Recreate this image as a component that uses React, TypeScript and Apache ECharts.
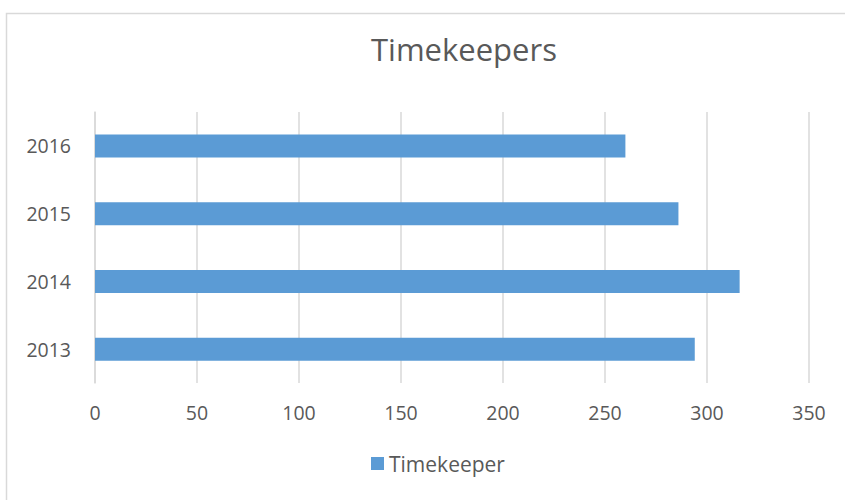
import React, { useEffect, useRef } from "react";
import * as echarts from "echarts";

const categories = ["2013", "2014", "2015", "2016"];
const timekeeperValues = [294, 316, 286, 260];
const xTicks = [0, 50, 100, 150, 200, 250, 300, 350];
const seriesName = "Timekeeper";
const titleText = "Timekeepers";

export default function App() {
  const ref = useRef<HTMLDivElement>(null);
  useEffect(() => {
    if (!ref.current) return;
    const chart = echarts.init(ref.current, null, { renderer: "svg" });
    const font = "'Open Sans', sans-serif";
    chart.setOption({
      animation: false,
      backgroundColor: "#ffffff",
      textStyle: { fontFamily: font },
      graphic: [
        {
          type: "polyline",
          shape: { points: [[6.5, 500], [6.5, 13.5], [845, 13.5]] },
          style: { fill: "none", stroke: "#d9d9d9", lineWidth: 1.5 },
          silent: true,
          z: -1,
        },
      ],
      title: {
        text: titleText,
        left: 366,
        top: 28,
        textStyle: { fontFamily: font, fontSize: 31, fontWeight: "normal", color: "#595959" },
      },
      legend: {
        bottom: 21,
        left: 366,
        itemWidth: 13,
        itemHeight: 13,
        itemGap: 5,
        icon: "rect",
        textStyle: { fontFamily: font, fontSize: 21, color: "#595959" },
        data: [seriesName],
      },
      grid: { left: 95, right: 845 - 809, top: 112, bottom: 500 - 383, containLabel: false },
      xAxis: {
        type: "value",
        min: xTicks[0],
        max: xTicks[xTicks.length - 1],
        interval: 50,
        axisLine: { show: false },
        axisTick: { show: false },
        axisLabel: { fontFamily: font, fontSize: 19.5, color: "#595959", margin: 19 },
        splitLine: { show: true, lineStyle: { color: "#d9d9d9", width: 1.5 } },
      },
      yAxis: {
        type: "category",
        data: categories,
        axisLine: { show: true, lineStyle: { color: "#d9d9d9", width: 1.5 } },
        axisTick: { show: false },
        axisLabel: { fontFamily: font, fontSize: 19.5, color: "#595959", margin: 24 },
      },
      series: [
        {
          name: seriesName,
          type: "bar",
          data: timekeeperValues,
          barWidth: 23,
          itemStyle: { color: "#5b9bd5" },
        },
      ],
    });
    return () => chart.dispose();
  }, []);
  return (
    <div
      ref={ref}
      style={{ position: "fixed", left: 0, top: 0, width: 845, height: 500 }}
    />
  );
}
